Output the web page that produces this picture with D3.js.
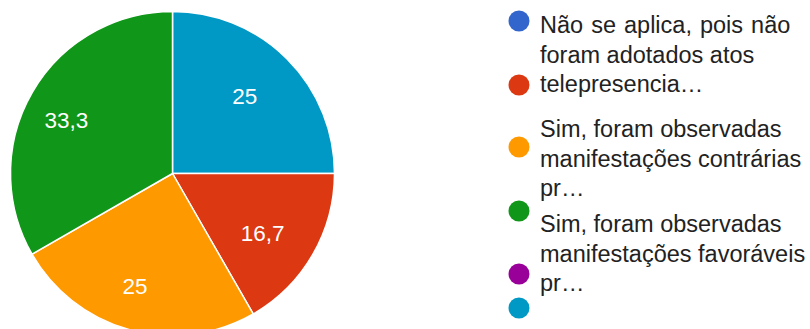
<!DOCTYPE html>
<html>
<head>
<meta charset="utf-8">
<script src="https://cdn.jsdelivr.net/npm/d3@7"></script>
<style>
  html, body { margin: 0; padding: 0; background: #ffffff; }
  svg { display: block; }
</style>
</head>
<body>
<svg id="chart" width="810" height="329"></svg>
<script>
// Slice values (percent), in drawing order clockwise from 12 o'clock
const sliceValues = [25, 16.7, 25, 33.3];
// Palette index of each slice
const sliceColorIndex = [5, 1, 2, 3];

// Series palette
const palette = ["#3366cc", "#dc3912", "#ff9900", "#109618", "#990099", "#0099c6"];

// Legend text, already wrapped into lines
const legendLines = [
  ["Não se aplica, pois não", "foram adotados atos", "telepresencia…"],
  ["Sim, foram observadas", "manifestações contrárias", "pr…"],
  ["Sim, foram observadas", "manifestações favoráveis", "pr…"]
];

const svg = d3.select("#chart");

const cx = 172.5, cy = 173.5, R = 162;

const ptBR = d3.formatLocale({ decimal: ",", thousands: ".", grouping: [3], currency: ["R$", ""] });
const fmt = ptBR.format("~");

const pie = d3.pie().sort(null).value(d => d.value);
const data = sliceValues.map((v, i) => ({ value: v, color: palette[sliceColorIndex[i]] }));
const arcs = pie(data);

const arc = d3.arc().innerRadius(0).outerRadius(R);
const labelArc = d3.arc().innerRadius(R * 0.7).outerRadius(R * 0.7);

const g = svg.append("g").attr("transform", `translate(${cx},${cy})`);

g.selectAll("path.slice")
  .data(arcs)
  .join("path")
  .attr("class", "slice")
  .attr("d", arc)
  .attr("fill", d => d.data.color)
  .attr("stroke", "#ffffff")
  .attr("stroke-width", 1.5);

// Value labels inside the slices, nudged slightly left/down
const labelShift = [-8, 3];
g.selectAll("text.val")
  .data(arcs)
  .join("text")
  .attr("class", "val")
  .attr("transform", d => {
    const [x, y] = labelArc.centroid(d);
    return `translate(${x + labelShift[0]},${y + labelShift[1]})`;
  })
  .attr("text-anchor", "middle")
  .attr("dy", "0.36em")
  .attr("fill", "#ffffff")
  .attr("font-family", "'Liberation Sans', Arial, sans-serif")
  .attr("font-size", 22.5)
  .text(d => fmt(d.data.value));

// Legend
const legend = svg.append("g").attr("font-family", "'Liberation Sans', Arial, sans-serif");
const markerX = 519, textX = 540, markerR = 10.5;
const markerY = [21, 85, 147, 211, 274, 308];

legend.selectAll("circle")
  .data(palette)
  .join("circle")
  .attr("cx", markerX)
  .attr("cy", (d, i) => markerY[i])
  .attr("r", markerR)
  .attr("fill", d => d);

const groupTop = [33, 137, 232];
const lineH = 29.5;
legendLines.forEach((lines, gi) => {
  legend.selectAll(null)
    .data(lines)
    .join("text")
    .attr("x", textX)
    .attr("y", (d, i) => groupTop[gi] + i * lineH)
    .attr("font-size", 23.5)
    .attr("word-spacing", (d, i) => (gi === 0 && i === 0) ? 1.5 : 0)
    .attr("fill", "#222222")
    .text(d => d);
});
</script>
</body>
</html>
